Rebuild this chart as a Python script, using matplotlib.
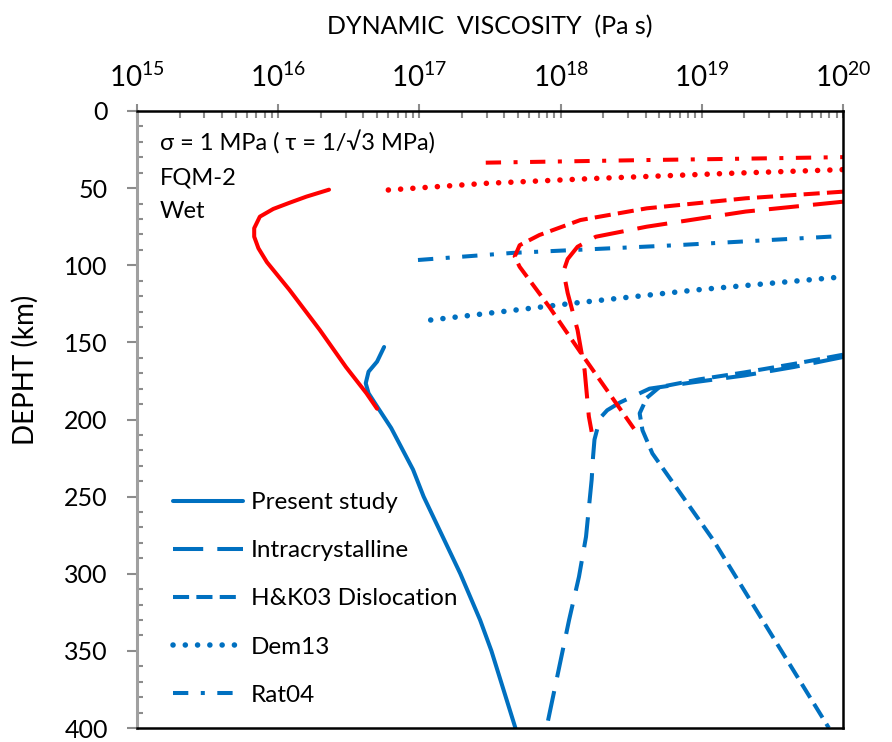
import numpy as np
import matplotlib
matplotlib.use('Agg')
import matplotlib.pyplot as plt
from matplotlib.ticker import FixedLocator, NullFormatter

plt.rcParams['font.family'] = ['Lato', 'DejaVu Sans']
plt.rcParams['mathtext.fontset'] = 'custom'
plt.rcParams['mathtext.rm'] = 'Lato'

BLUE = '#0070C0'
RED = '#FF0000'

# ---------------------------------------------------------------
# DATA  (log10 of viscosity in Pa s, depth in km)
# ---------------------------------------------------------------
# blue set
present_blue_log = [16.75, 16.70, 16.64, 16.62, 16.64, 16.70, 16.80, 16.955, 17.03, 17.29, 17.43, 17.51, 17.68]
present_blue_dep = [153, 162.5, 169, 176.5, 183, 191.5, 205.5, 232.5, 250, 300, 330, 350, 400]

intra_blue_log = [20.0, 19.65, 19.3, 18.93, 18.63, 18.42, 18.33, 18.28, 18.24, 18.23, 18.22, 18.18, 18.13, 18.06, 17.90]
intra_blue_dep = [159.5, 166, 171.5, 176, 180, 189, 194, 199, 213, 224, 239, 276, 302, 330, 400]

hk_blue_log = [20.0, 19.65, 19.3, 18.98, 18.70, 18.61, 18.56, 18.58, 18.65, 19.08, 19.90]
hk_blue_dep = [158, 164, 169.5, 174, 179, 186, 196, 207, 222, 278, 400]

dem_blue_log = [17.08, 17.5, 18.1, 18.96, 20.0]
dem_blue_dep = [135.5, 131, 124.5, 116, 107.5]

rat_blue_log = [16.99, 17.66, 18.82, 20.0]
rat_blue_dep = [96.6, 92, 87, 81]

# red set
present_red_log = [16.36, 16.20, 16.08, 15.965, 15.87, 15.83, 15.83, 15.86, 15.92, 16.08, 16.295, 16.48, 16.625, 16.70]
present_red_dep = [51, 55.5, 59.5, 63.5, 68.5, 76, 81.5, 89, 98, 116, 142, 166, 183, 193]

intra_red_log = [20.0, 19.31, 18.61, 18.25, 18.12, 18.05, 18.02, 18.05, 18.12, 18.17, 18.20, 18.22]
intra_red_dep = [58.8, 65.2, 75, 81.5, 88, 96, 104, 118, 142, 168, 198, 208]

hk_red_log = [20.0, 19.31, 18.61, 18.14, 17.85, 17.71, 17.675, 17.71, 17.92, 18.16, 18.52]
hk_red_dep = [52.3, 56.6, 63.1, 70.7, 80.4, 87, 94.4, 101, 127, 159, 206]

dem_red_log = [16.78, 17.47, 18.25, 19.2, 20.0]
dem_red_dep = [51.2, 46.9, 43.7, 40.4, 38.0]

rat_red_log = [17.47, 18.61, 19.31, 20.0]
rat_red_dep = [33.5, 31.8, 30.9, 29.9]

labels = ['Present study', 'Intracrystalline', 'H&K03 Dislocation', 'Dem13', 'Rat04']
x_tick_exp = [15, 16, 17, 18, 19, 20]
y_ticks = [0, 50, 100, 150, 200, 250, 300, 350, 400]

# ---------------------------------------------------------------
# STYLES
# ---------------------------------------------------------------
LW = 2.9
styles = [
    dict(lw=LW, linestyle='-', solid_capstyle='round'),
    dict(lw=LW, linestyle=(0, (7.5, 3.5)), dash_capstyle='butt'),
    dict(lw=LW, linestyle=(0, (4.0, 1.8)), dash_capstyle='butt'),
    dict(lw=4.0, linestyle=(0, (0.01, 2.2)), dash_capstyle='round'),
    dict(lw=LW, linestyle=(0, (3.8, 3.1, 1.0, 3.1)), dash_capstyle='butt'),
]

W, H = 892, 742
fig = plt.figure(figsize=(W / 100, H / 100), dpi=100)
L, R, T, B = 137, 843, 111, 728
ax = fig.add_axes([L / W, 1 - B / H, (R - L) / W, (B - T) / H])

blue_sets = [(present_blue_log, present_blue_dep), (intra_blue_log, intra_blue_dep),
             (hk_blue_log, hk_blue_dep), (dem_blue_log, dem_blue_dep), (rat_blue_log, rat_blue_dep)]
red_sets = [(present_red_log, present_red_dep), (intra_red_log, intra_red_dep),
            (hk_red_log, hk_red_dep), (dem_red_log, dem_red_dep), (rat_red_log, rat_red_dep)]

handles = []
for (lg, dp), st, lab in zip(blue_sets, styles, labels):
    h, = ax.plot(10 ** np.array(lg), dp, color=BLUE, label=lab, **st)
    handles.append(h)
for (lg, dp), st in zip(red_sets, styles):
    ax.plot(10 ** np.array(lg), dp, color=RED, **st)

ax.set_xscale('log')
ax.set_xlim(1e15, 1e20)
ax.set_ylim(400, 0)

# top x axis
ax.xaxis.tick_top()
ax.set_xticks([10.0 ** e for e in x_tick_exp])
ax.set_xticklabels([r'$\mathregular{10^{%d}}$' % e for e in x_tick_exp])
minors = [m * 10.0 ** e for e in x_tick_exp[:-1] for m in range(2, 10)]
ax.xaxis.set_minor_locator(FixedLocator(minors))
ax.xaxis.set_minor_formatter(NullFormatter())
ax.tick_params(axis='x', which='major', direction='inout', length=10, width=1.5,
               color='#8C8C8C', labelsize=20, pad=9)
ax.tick_params(axis='x', which='minor', direction='in', length=5, width=1.5, color='#8C8C8C')

# left y axis
ax.set_yticks(y_ticks)
ax.set_yticks(np.arange(0, 401, 10), minor=True)
ax.tick_params(axis='y', which='major', direction='out', length=7, width=1.5,
               color='#8C8C8C', labelsize=18, pad=14)
ax.tick_params(axis='y', which='minor', direction='in', length=4, width=1.5, color='#8C8C8C')

for s in ['top', 'right', 'bottom']:
    ax.spines[s].set_color('black')
    ax.spines[s].set_linewidth(1.8)
ax.spines['left'].set_color('#A0A0A0')
ax.spines['left'].set_linewidth(2.2)

# titles
fig.text(490 / W, 1 - 27 / H, 'DYNAMIC  VISCOSITY  (Pa s)', ha='center', va='center', fontsize=18)
fig.text(25 / W, 1 - 370 / H, 'DEPHT (km)', ha='center', va='center', rotation=90, fontsize=20)

# annotation
for txt, yy in [('σ = 1 MPa ( τ = 1/√3 MPa)', 143), ('FQM-2', 178), ('Wet', 211)]:
    fig.text(160 / W, 1 - yy / H, txt, ha='left', va='center', fontsize=17)

leg = ax.legend(handles=handles, loc='upper left', bbox_to_anchor=(173 / W, 1 - 492 / H),
                bbox_transform=fig.transFigure, frameon=False, fontsize=17.5,
                handlelength=2.9, handletextpad=0.3, labelspacing=1.12, borderpad=0, borderaxespad=0)

fig.savefig('out.png', dpi=100)
